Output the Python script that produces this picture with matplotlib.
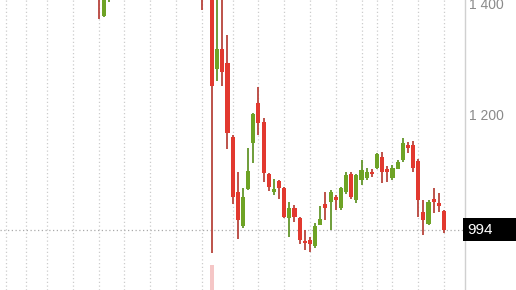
import matplotlib
matplotlib.use('Agg')
import matplotlib.pyplot as plt
import matplotlib.transforms as mtransforms
from matplotlib.patches import Rectangle

# trading day index (0 = the big drop day), OHLC
day = [-22, -21, -20, -2, 0, 1, 2, 3, 4, 5, 6, 7, 8, 9, 10, 11, 12, 13, 14, 15,
       16, 17, 18, 19, 20, 21, 22, 23, 24, 25, 26, 27, 28, 29, 30, 31, 32, 33,
       34, 35, 36, 37, 38, 39, 40, 41, 42, 43, 44, 45]
open_ = [1430, 1377, 1410, 1440, 1420, 1282, 1318, 1293, 1160, 1061, 1000, 1067, 1149, 1221, 1187, 1094, 1061, 1081, 1068, 1015,
         1033, 1015, 973, 975, 964, 1002, 1040, 1043, 1052, 1033, 1061, 1094, 1047, 1083, 1086, 1097, 1104, 1124,
         1103, 1086, 1103, 1119, 1146, 1145, 1117, 1025, 1004, 1049, 1041, 1027]
high = [1445, 1435, 1440, 1450, 1430, 1410, 1410, 1343, 1163, 1097, 1068, 1140, 1203, 1250, 1194, 1096, 1085, 1083, 1070, 1043,
        1038, 1016, 993, 980, 1005, 1036, 1061, 1065, 1056, 1070, 1097, 1097, 1094, 1119, 1104, 1103, 1131, 1133,
        1108, 1110, 1119, 1158, 1151, 1152, 1120, 1047, 1047, 1068, 1059, 1029]
low = [1372, 1376, 1403, 1388, 952, 1260, 1252, 1138, 1040, 977, 997, 1065, 1113, 1164, 1079, 1063, 1056, 1049, 1015, 981,
       1007, 968, 957, 954, 961, 1002, 1011, 993, 1029, 1029, 1058, 1048, 1041, 1074, 1083, 1088, 1103, 1077,
       1079, 1083, 1102, 1115, 1131, 1097, 1016, 984, 1002, 1023, 1025, 988]
close = [1410, 1425, 1430, 1410, 1251, 1318, 1277, 1167, 1052, 1011, 1052, 1099, 1201, 1185, 1095, 1070, 1067, 1068, 1016, 1033,
         1016, 975, 970, 968, 1000, 1013, 1033, 1061, 1047, 1068, 1092, 1052, 1092, 1101, 1097, 1094, 1129, 1097,
         1097, 1104, 1115, 1149, 1140, 1104, 1047, 1011, 1043, 1043, 1036, 994]

vol_day = [0]
vol = [1.0]

grid_days = [-40, -36, -32, -27, -22, -17, -12, -7, -2, 4, 9, 14, 19, 24, 29, 32, 35, 40, 45]
y_ticks = [1200, 1400]
last_price = 994

red = '#e2392f'
green = '#6ea325'
red_wick = '#b8443c'
green_wick = '#62952a'

fig = plt.figure(figsize=(5.16, 2.9), dpi=100)
ax = fig.add_axes([0, 0, 465 / 516, 1])

for d in grid_days:
    ax.axvline(d, color='#cccccc', lw=0.9, ls=(0, (1, 2)), zorder=0)
ax.axhline(last_price, color='#aaaaaa', lw=0.9, ls=(0, (1, 2)), zorder=0)

for d, o, h, l, c in zip(day, open_, high, low, close):
    up = c >= o
    ax.vlines(d, l, h, color=green_wick if up else red_wick, lw=1.3, zorder=2)
    ax.bar(d, abs(c - o), bottom=min(o, c), width=0.8, color=green if up else red, zorder=3)

# volume overlay
vax = ax.twinx()
vax.bar(vol_day, vol, width=0.8, color='#f5c6c6')
vax.set_ylim(0, vol[0] * 290 / 25)
vax.axis('off')

ax.set_xlim(-41.12, 49.07)
ax.set_ylim(885.5, 1405.8)

ax.yaxis.tick_right()
ax.set_yticks(y_ticks)
ax.set_yticklabels(['{:,}'.format(t).replace(',', ' ') for t in y_ticks])
ax.tick_params(axis='y', length=0, pad=3, labelsize=10, labelcolor='#8a8a8a')
ax.tick_params(axis='x', length=0, labelbottom=False)
for s in ['top', 'left', 'bottom']:
    ax.spines[s].set_visible(False)
ax.spines['right'].set_color('#d0d0d0')
ax.spines['right'].set_linewidth(1.0)
for lbl in ax.get_yticklabels():
    lbl.set_fontfamily('Liberation Sans')

# last price box
trans = mtransforms.blended_transform_factory(ax.transAxes, ax.transData)
ax.add_patch(Rectangle((463 / 465, last_price - 20.5), 55 / 465, 41, transform=trans,
                       facecolor='black', clip_on=False, zorder=5))
ax.text(467 / 465, last_price, str(last_price), transform=trans, color='white', fontsize=11,
        family='Liberation Sans', va='center', ha='left', zorder=6, clip_on=False)

fig.savefig('out.png', dpi=100)
